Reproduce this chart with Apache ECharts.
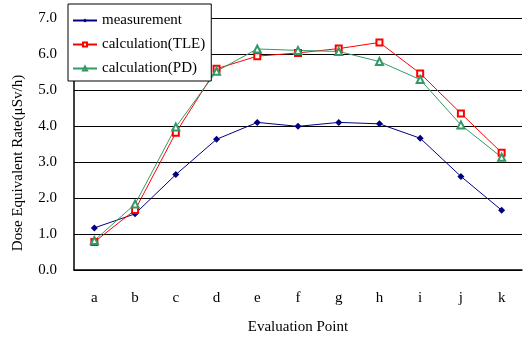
<!DOCTYPE html>
<html>
<head>
<meta charset="utf-8">
<script src="https://cdn.jsdelivr.net/npm/echarts@6/dist/echarts.min.js"></script>
<style>
  html, body { margin: 0; padding: 0; background: #fff; }
  #chart { width: 523px; height: 340px; }
</style>
</head>
<body>
<div id="chart"></div>
<script>
const points = ['a', 'b', 'c', 'd', 'e', 'f', 'g', 'h', 'i', 'j', 'k']
const measurement = [1.17, 1.56, 2.65, 3.63, 4.10, 3.99, 4.10, 4.06, 3.66, 2.60, 1.66]
const calcTLE = [0.78, 1.67, 3.81, 5.59, 5.94, 6.03, 6.15, 6.32, 5.46, 4.35, 3.26]
const calcPD = [0.82, 1.83, 3.97, 5.52, 6.14, 6.10, 6.07, 5.79, 5.29, 4.03, 3.13]

const font = 'Liberation Serif, Times New Roman, serif'
const chart = echarts.init(document.getElementById('chart'))

chart.setOption({
  animation: false,
  textStyle: { fontFamily: font, color: '#000' },
  grid: { left: 74, right: 1, top: 18, bottom: 70 },
  legend: {
    orient: 'vertical',
    left: 68,
    top: 4,
    padding: [9, 6, 5, 4],
    itemGap: 9,
    itemWidth: 24,
    itemHeight: 5,
    backgroundColor: '#fff',
    borderColor: '#000',
    borderWidth: 1,
    textStyle: { fontFamily: font, fontSize: 15, color: '#000' },
    data: ['measurement', 'calculation(TLE)', 'calculation(PD)']
  },
  xAxis: {
    type: 'category',
    data: points,
    name: 'Evaluation Point',
    nameLocation: 'middle',
    nameGap: 50,
    nameTextStyle: { fontFamily: font, fontSize: 15, color: '#000' },
    axisLine: { lineStyle: { color: '#000', width: 1.5 } },
    axisTick: { inside: true, length: 5, lineStyle: { color: '#000' } },
    axisLabel: { fontFamily: font, fontSize: 15, color: '#000', margin: 21 }
  },
  yAxis: {
    type: 'value',
    min: 0,
    max: 7,
    interval: 1,
    name: 'Dose Equivalent Rate(μSv/h)',
    nameLocation: 'middle',
    nameGap: 48,
    nameTextStyle: { fontFamily: font, fontSize: 15, color: '#000', padding: [0, 38, 0, 0] },
    axisLine: { show: true, lineStyle: { color: '#000', width: 1.5 } },
    axisTick: { show: true, inside: true, length: 5, lineStyle: { color: '#000' } },
    axisLabel: { fontFamily: font, fontSize: 15, color: '#000', margin: 17, formatter: v => v.toFixed(1) },
    splitLine: { lineStyle: { color: '#000', width: 1 } }
  },
  series: [
    {
      name: 'measurement',
      type: 'line',
      data: measurement,
      symbol: 'diamond',
      symbolSize: 7,
      lineStyle: { color: '#000080', width: 1 },
      itemStyle: { color: '#000080' }
    },
    {
      name: 'calculation(TLE)',
      type: 'line',
      data: calcTLE,
      symbol: 'emptyRect',
      symbolSize: 6,
      lineStyle: { color: '#ff0000', width: 1 },
      itemStyle: { color: '#ff0000', borderWidth: 1 }
    },
    {
      name: 'calculation(PD)',
      type: 'line',
      data: calcPD,
      symbol: 'emptyTriangle',
      symbolSize: 7,
      lineStyle: { color: '#339966', width: 1 },
      itemStyle: { color: '#339966', borderWidth: 1 }
    }
  ]
})
</script>
</body>
</html>
